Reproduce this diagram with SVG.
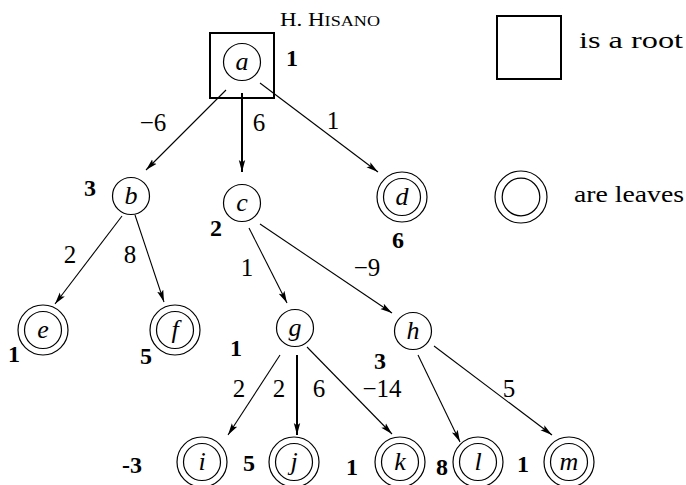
<svg xmlns="http://www.w3.org/2000/svg" width="686" height="485" viewBox="0 0 686 485">
<style>
.n{fill:none;stroke:#000;stroke-width:1.2}
text{font-family:"Liberation Serif","Times New Roman","DejaVu Serif",serif}
.lbl{font-style:italic;font-size:26px;text-anchor:middle}
.w{font-size:25px;text-anchor:middle}
.b{font-weight:bold;font-size:24px;text-anchor:middle}
.t{font-size:24px}
.e{stroke:#000;stroke-width:1.1;fill:none;marker-end:url(#ah)}
.eb{stroke:#000;stroke-width:2;fill:none;marker-end:url(#ah)}
</style>
<defs>
<marker id="ah" markerUnits="userSpaceOnUse" markerWidth="13" markerHeight="8" refX="12" refY="4" orient="auto">
<path d="M0,0.8 L12,4 L0,7.2 L2.5,4 Z" fill="#000"/>
</marker>
</defs>
<text x="330" y="26" class="t" style="font-size:19px" text-anchor="middle" textLength="100" lengthAdjust="spacingAndGlyphs">H. H<tspan style="font-size:15px">ISANO</tspan></text>
<g id="legend">
<rect x="497" y="16" width="64" height="63" fill="none" stroke="#000" stroke-width="2"/>
<text x="579" y="48" class="t" textLength="104" lengthAdjust="spacingAndGlyphs">is a root</text>
<circle cx="521" cy="197" r="26" class="n"/>
<circle cx="521" cy="197" r="18.8" class="n"/>
<text x="574" y="202" class="t" textLength="110" lengthAdjust="spacingAndGlyphs">are leaves</text>
</g>
<g id="edges">
<line x1="226" y1="90" x2="146" y2="170" class="e"/>
<line x1="242" y1="93" x2="242" y2="172" class="eb"/>
<line x1="260" y1="83" x2="378" y2="172" class="e"/>
<line x1="122" y1="216" x2="55" y2="304" class="e"/>
<line x1="135" y1="215" x2="164" y2="302" class="e"/>
<line x1="249" y1="228" x2="287" y2="303" class="e"/>
<line x1="260" y1="224" x2="392" y2="313" class="e"/>
<line x1="280" y1="355" x2="228" y2="435" class="e"/>
<line x1="297" y1="355" x2="297" y2="435" class="eb"/>
<line x1="307" y1="347" x2="392" y2="434" class="e"/>
<line x1="418" y1="355" x2="460" y2="442" class="e"/>
<line x1="434" y1="346" x2="552" y2="435" class="e"/>
<text x="153" y="131" class="w">−6</text>
<text x="259" y="131" class="w">6</text>
<text x="333" y="129" class="w">1</text>
<text x="70" y="263" class="w">2</text>
<text x="130" y="263" class="w">8</text>
<text x="247" y="276" class="w">1</text>
<text x="367" y="276" class="w">−9</text>
<text x="239" y="397" class="w">2</text>
<text x="279" y="397" class="w">2</text>
<text x="319" y="397" class="w">6</text>
<text x="382" y="397" class="w">−14</text>
<text x="509" y="397" class="w">5</text>
</g>
<g id="a">
<rect x="210" y="33" width="64" height="65" fill="none" stroke="#000" stroke-width="2"/>
<circle cx="242" cy="62" r="18.5" class="n"/>
<text x="242" y="70" class="lbl">a</text>
<text x="292" y="66" class="b">1</text>
</g>
<g id="b">
<circle cx="131" cy="196" r="18.5" class="n"/>
<text x="131" y="204" class="lbl">b</text>
<text x="90" y="196" class="b">3</text>
</g>
<g id="c">
<circle cx="242" cy="203" r="18.5" class="n"/>
<text x="242" y="211" class="lbl">c</text>
<text x="216" y="236" class="b">2</text>
</g>
<g id="d">
<circle cx="402" cy="197" r="25" class="n"/>
<circle cx="402" cy="197" r="18.5" class="n"/>
<text x="402" y="205" class="lbl">d</text>
<text x="398" y="248" class="b">6</text>
</g>
<g id="e">
<circle cx="43" cy="330" r="25" class="n"/>
<circle cx="43" cy="330" r="18.5" class="n"/>
<text x="43" y="338" class="lbl">e</text>
<text x="14" y="362" class="b">1</text>
</g>
<g id="f">
<circle cx="175" cy="330" r="25" class="n"/>
<circle cx="175" cy="330" r="18.5" class="n"/>
<text x="175" y="338" class="lbl">f</text>
<text x="146" y="364" class="b">5</text>
</g>
<g id="g">
<circle cx="295" cy="328" r="18.5" class="n"/>
<text x="295" y="336" class="lbl">g</text>
<text x="236" y="356" class="b">1</text>
</g>
<g id="h">
<circle cx="413" cy="331" r="18.5" class="n"/>
<text x="413" y="339" class="lbl">h</text>
<text x="380" y="369" class="b">3</text>
</g>
<g id="i">
<circle cx="202" cy="462" r="25" class="n"/>
<circle cx="202" cy="462" r="18.5" class="n"/>
<text x="202" y="470" class="lbl">i</text>
<text x="132" y="473" class="b">-3</text>
</g>
<g id="j">
<circle cx="294" cy="462" r="25" class="n"/>
<circle cx="294" cy="462" r="18.5" class="n"/>
<text x="294" y="470" class="lbl">j</text>
<text x="249" y="471" class="b">5</text>
</g>
<g id="k">
<circle cx="400" cy="462" r="25" class="n"/>
<circle cx="400" cy="462" r="18.5" class="n"/>
<text x="400" y="470" class="lbl">k</text>
<text x="352" y="475" class="b">1</text>
</g>
<g id="l">
<circle cx="478" cy="462" r="25" class="n"/>
<circle cx="478" cy="462" r="18.5" class="n"/>
<text x="478" y="470" class="lbl">l</text>
<text x="442" y="475" class="b">8</text>
</g>
<g id="m">
<circle cx="569" cy="462" r="25" class="n"/>
<circle cx="569" cy="462" r="18.5" class="n"/>
<text x="569" y="470" class="lbl">m</text>
<text x="523" y="472" class="b">1</text>
</g>
</svg>
